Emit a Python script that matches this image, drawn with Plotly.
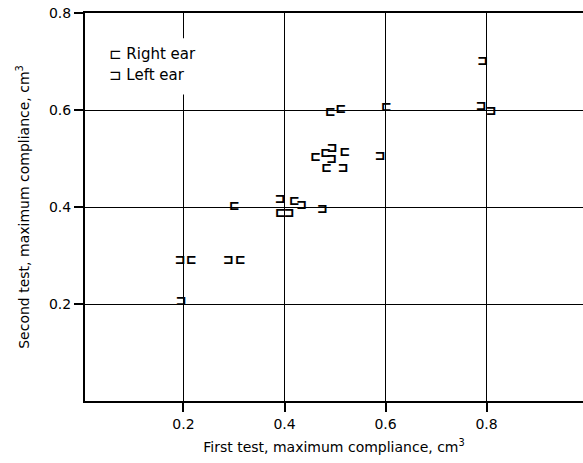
import plotly.graph_objects as go

# Data (cm^3)
right_x = [0.215, 0.312, 0.300, 0.419, 0.391, 0.490, 0.511, 0.601, 0.461, 0.481, 0.519, 0.483]
right_y = [0.288, 0.288, 0.401, 0.410, 0.385, 0.594, 0.600, 0.604, 0.502, 0.509, 0.511, 0.478]

left_x = [0.193, 0.289, 0.195, 0.391, 0.434, 0.409, 0.475, 0.589, 0.494, 0.493, 0.516, 0.792, 0.789, 0.809]
left_y = [0.288, 0.288, 0.204, 0.415, 0.403, 0.385, 0.394, 0.503, 0.520, 0.497, 0.478, 0.698, 0.607, 0.596]

tick_vals = [0.2, 0.4, 0.6, 0.8]
tick_text = ["0.2", "0.4", "0.6", "0.8"]

RIGHT_SYM = "\u228F"  # ⊏
LEFT_SYM = "\u2290"   # ⊐

font_family = "DejaVu Sans"
mark_font = dict(family="DejaVu Sans Mono", size=16, color="black", weight="bold")

fig = go.Figure()
fig.add_trace(go.Scatter(x=right_x, y=right_y, mode="text", text=[RIGHT_SYM] * len(right_x),
                         textposition="middle center", textfont=mark_font,
                         name="Right ear", showlegend=False, hoverinfo="x+y"))
fig.add_trace(go.Scatter(x=left_x, y=left_y, mode="text", text=[LEFT_SYM] * len(left_x),
                         textposition="middle center", textfont=mark_font,
                         name="Left ear", showlegend=False, hoverinfo="x+y"))

# legend box (white background hiding grid) and entries
fig.add_shape(type="rect", xref="paper", yref="paper", x0=0.035, x1=0.26, y0=0.79, y1=0.935,
              fillcolor="white", line=dict(width=0), layer="above")
fig.add_annotation(xref="paper", yref="paper", x=0.045, y=0.895, xanchor="left", yanchor="middle",
                   text=RIGHT_SYM + " Right ear", showarrow=False,
                   font=dict(family=font_family, size=15, color="black"))
fig.add_annotation(xref="paper", yref="paper", x=0.045, y=0.84, xanchor="left", yanchor="middle",
                   text=LEFT_SYM + " Left ear", showarrow=False,
                   font=dict(family=font_family, size=15, color="black"))

axis_common = dict(
    tickvals=tick_vals, ticktext=tick_text,
    showgrid=True, gridcolor="black", gridwidth=1.3,
    showline=True, linecolor="black", linewidth=2,
    ticks="outside", ticklen=9, tickwidth=1.5, tickcolor="black",
    zeroline=False,
    tickfont=dict(family=font_family, size=14, color="black"),
)

fig.update_xaxes(range=[0.005, 0.991], mirror=True,
                 title=dict(text="First test, maximum compliance, cm<sup>3</sup>",
                            font=dict(family=font_family, size=14, color="black"), standoff=11),
                 **axis_common)
fig.update_yaxes(range=[0.0, 0.8], mirror=False,
                 title=dict(text="Second test, maximum compliance, cm<sup>3</sup>",
                            font=dict(family=font_family, size=14, color="black"), standoff=16),
                 **axis_common)

fig.update_layout(
    width=583, height=463,
    margin=dict(l=85, r=0, t=13, b=62),
    paper_bgcolor="white", plot_bgcolor="white",
    showlegend=False,
)

fig.write_html("out.html")
